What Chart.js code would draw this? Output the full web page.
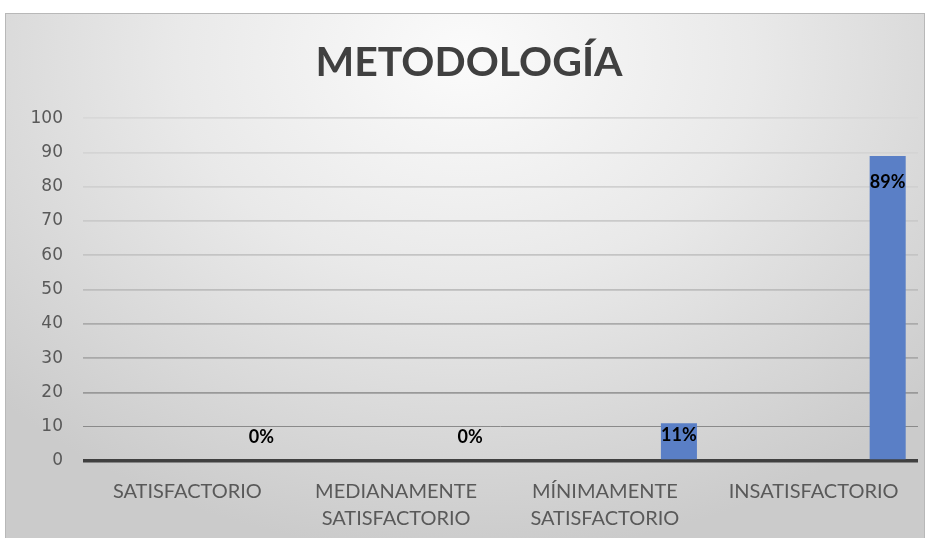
<!DOCTYPE html>
<html>
<head>
<meta charset="utf-8">
<script src="https://cdn.jsdelivr.net/npm/chart.js@4"></script>
<style>
  html, body { margin: 0; padding: 0; background: #fff; }
  body { width: 930px; height: 538px; position: relative; overflow: hidden; }
  #panel {
    position: absolute; left: 5px; top: 13px; width: 918px; height: 525px;
    border: 1px solid #b8b8b8; border-bottom: none;
    background: radial-gradient(ellipse 70% 95% at 50% 8%, #fbfbfb 0%, #e9e9e9 45%, #cbcbcb 100%);
  }
  #chart { display: block; }
</style>
</head>
<body>
<div id="panel"><canvas id="chart" width="918" height="525"></canvas></div>
<script>
// ─── DATOS ───────────────────────────────────────────────────────
const title = "METODOLOGÍA";
const categories = [
  "SATISFACTORIO",
  ["MEDIANAMENTE", "SATISFACTORIO"],
  ["MÍNIMAMENTE", "SATISFACTORIO"],
  "INSATISFACTORIO",
];
const percentages = [0, 0, 11, 89];
const emptySeries = [null, null, null, null]; // series vacías del gráfico original
const yTicks = { min: 0, max: 100, step: 10 };

// colores de las líneas de cuadrícula (de abajo hacia arriba)
const gridColors = ["#404040", "#8a8a8a", "#999999", "#a9a9a9", "#ababab",
  "#bdbdbd", "#c4c4c4", "#cacaca", "#d0d0d0", "#d4d4d4", "#d8d8d8"];

// ─── ETIQUETAS DE DATOS ──────────────────────────────────────────
const dataLabels = {
  id: "dataLabels",
  afterDatasetsDraw(chart) {
    const { ctx } = chart;
    const meta = chart.getDatasetMeta(3);
    ctx.save();
    ctx.font = "bold 18px Lato";
    ctx.fillStyle = "#000";
    ctx.textAlign = "center";
    ctx.textBaseline = "middle";
    meta.data.forEach((bar, i) => {
      const y = Math.min(bar.y + 26, bar.base - 24);
      ctx.fillText(percentages[i] + "%", bar.x, y);
    });
    ctx.restore();
  },
};

const ghost = (data) => ({
  data,
  backgroundColor: "transparent",
  categoryPercentage: 0.946,
  barPercentage: 0.73,
});

new Chart(document.getElementById("chart"), {
  type: "bar",
  data: {
    labels: categories,
    datasets: [
      ghost(emptySeries),
      ghost(emptySeries),
      ghost(emptySeries),
      {
        label: "Metodología",
        data: percentages,
        backgroundColor: "#5a7fc6",
        borderWidth: 0,
        categoryPercentage: 0.946,
        barPercentage: 0.73,
      },
    ],
  },
  options: {
    responsive: false,
    animation: false,
    layout: { padding: { left: 14, right: 6, top: 0, bottom: 0 } },
    plugins: {
      legend: { display: false },
      tooltip: { enabled: false },
      title: {
        display: true,
        text: title,
        color: "#404040",
        font: { family: "Lato", size: 41, weight: "bold", lineHeight: 1.2 },
        padding: { top: 24, bottom: 31 },
      },
    },
    scales: {
      x: {
        grid: { display: false },
        border: { display: false },
        ticks: {
          color: "#595959",
          font: { family: "Lato", size: 20, lineHeight: 1.35 },
          padding: 9,
          maxRotation: 0,
          autoSkip: false,
        },
        afterFit: (s) => { s.height = 78; },
      },
      y: {
        min: yTicks.min,
        max: yTicks.max,
        border: { display: false },
        grid: {
          drawTicks: false,
          color: (c) => gridColors[c.index] || "#d0d0d0",
          lineWidth: (c) => (c.index === 0 ? 3.5 : c.index === 1 ? 1 : 1.8),
        },
        ticks: {
          stepSize: yTicks.step,
          color: "#595959",
          font: { family: "DejaVu Sans", size: 17 },
          padding: 20,
        },
        afterFit: (s) => { s.width = 63; },
      },
    },
  },
  plugins: [dataLabels],
});
</script>
</body>
</html>
